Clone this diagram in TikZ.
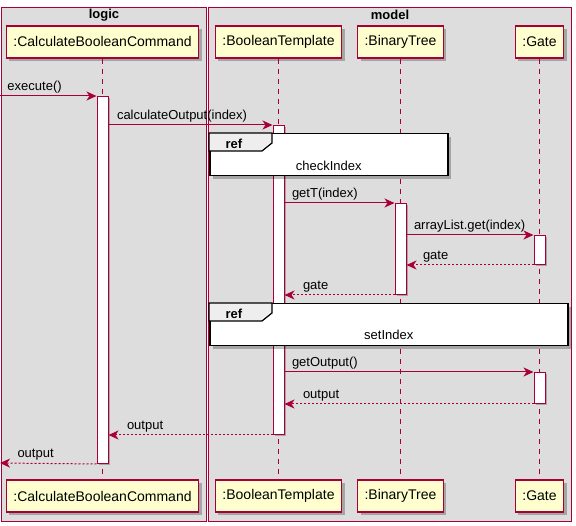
\documentclass[tikz,border=0pt]{standalone}
\usepackage{fontspec}
\setmainfont{Liberation Sans}
\usetikzlibrary{arrows.meta,shadows}
\definecolor{plum}{HTML}{A80036}
\definecolor{partfill}{HTML}{FEFECE}
\definecolor{groupgray}{HTML}{DDDDDD}
\definecolor{tabgray}{HTML}{EEEEEE}

\begin{document}
\begin{tikzpicture}[x=1pt,y=-1pt,>={Stealth[length=10pt,width=9pt,inset=3pt]},
  group node/.style={rectangle,fill=groupgray,draw=plum,line width=1pt,inner sep=0pt,anchor=north west},
  group title/.style={font=\bfseries\fontsize{13}{15}\selectfont},
  part node/.style={rectangle,fill=partfill,draw=plum,line width=1.2pt,font=\fontsize{14}{16}\selectfont,
    minimum height=32pt,inner xsep=7pt,drop shadow={shadow xshift=3pt,shadow yshift=-3pt,fill=black,opacity=0.25}},
  act node/.style={rectangle,fill=white,draw=plum,line width=1pt,minimum width=11pt,inner sep=0pt,anchor=north,
    drop shadow={shadow xshift=2pt,shadow yshift=-2pt,fill=black,opacity=0.25}},
  ref node/.style={rectangle,fill=white,draw=black,line width=1.5pt,inner sep=0pt,anchor=north west,
    drop shadow={shadow xshift=3pt,shadow yshift=-3pt,fill=black,opacity=0.25}},
  ref tab/.style={fill=tabgray,draw=black,line width=1.2pt},
  ref text/.style={font=\fontsize{13}{15}\selectfont},
  life line/.style={draw=plum,line width=1pt,dash pattern=on 5pt off 5pt},
  msg/.style={->,draw=plum,line width=1pt},
  ret/.style={->,draw=plum,line width=1pt,dash pattern=on 2pt off 2pt},
  msg label/.style={font=\fontsize{13}{15}\selectfont,inner sep=2pt,anchor=south west}]

  \useasboundingbox (0,0) rectangle (576,526);

  % groups
  \node[group node,minimum width=205pt,minimum height=514pt] (logic) at (1,7) {};
  \node[group node,minimum width=363pt,minimum height=514pt] (model) at (208,7) {};
  \node[group title] at ([yshift=-8pt]logic.north) {logic};
  \node[group title] at ([yshift=-8pt]model.north) {model};

  % participants
  \node[part node] (cbcT) at (102.5,42) {:CalculateBooleanCommand};
  \node[part node] (btT) at (278.5,42) {:BooleanTemplate};
  \node[part node] (treeT) at (400.5,42) {:BinaryTree};
  \node[part node] (gateT) at (539.5,42) {:Gate};
  \node[part node] (cbcB) at (102.5,496) {:CalculateBooleanCommand};
  \node[part node] (btB) at (278.5,496) {:BooleanTemplate};
  \node[part node] (treeB) at (400.5,496) {:BinaryTree};
  \node[part node] (gateB) at (539.5,496) {:Gate};

  \draw[life line] (cbcT) -- (cbcB);
  \draw[life line] (btT) -- (btB);
  \draw[life line] (treeT) -- (treeB);
  \draw[life line] (gateT) -- (gateB);

  % activations
  \node[act node,minimum height=367pt] (a1) at (102.5,96) {};
  \node[act node,minimum height=309pt] (a2) at (278.5,125) {};
  \node[act node,minimum height=91pt] (a3) at (400.5,203) {};
  \node[act node,minimum height=29pt] (a4) at (539.5,235) {};
  \node[act node,minimum height=31pt] (a5) at (539.5,372) {};

  % refs
  \node[ref node,minimum width=238pt,minimum height=42pt] (chk) at (209,133) {};
  \draw[ref tab] (chk.north west) -- ++(63,0) -- ++(0,10) -- ++(-10,8) -- ++(-53,0) -- cycle;
  \node[font=\bfseries\fontsize{13}{15}\selectfont,anchor=base west] at ([xshift=13pt,yshift=-15.5pt]chk.north west) {ref};
  \node[ref text] at ([yshift=11pt]chk.south) {checkIndex};

  \node[ref node,minimum width=358pt,minimum height=42pt] (set) at (209,303) {};
  \draw[ref tab] (set.north west) -- ++(63,0) -- ++(0,10) -- ++(-10,8) -- ++(-53,0) -- cycle;
  \node[font=\bfseries\fontsize{13}{15}\selectfont,anchor=base west] at ([xshift=13pt,yshift=-15.5pt]set.north west) {ref};
  \node[ref text] at ([yshift=11.5pt]set.south) {setIndex};

  % messages
  \coordinate (in) at (0,96);
  \coordinate (out) at (0,463);
  \draw[msg] (in) -- node[msg label,pos=0,xshift=5pt] {execute()} (a1.north west);
  \draw[msg] (a1.east |- a2.north) -- node[msg label,pos=0,xshift=6pt] {calculateOutput(index)} (a2.north west);
  \draw[msg] (a2.east |- a3.north) -- node[msg label,pos=0,xshift=5pt] {getT(index)} (a3.north west);
  \draw[msg] (a3.east |- a4.north) -- node[msg label,pos=0,xshift=5pt] {arrayList.get(index)} (a4.north west);
  \draw[ret] (a4.south west) -- node[msg label,pos=1,xshift=14pt] {gate} (a3.east |- a4.south);
  \draw[ret] (a3.south west) -- node[msg label,pos=1,xshift=16pt] {gate} (a2.east |- a3.south);
  \draw[msg] (a2.east |- a5.north) -- node[msg label,pos=0,xshift=5pt] {getOutput()} (a5.north west);
  \draw[ret] (a5.south west) -- node[msg label,pos=1,xshift=16pt] {output} (a2.east |- a5.south);
  \draw[ret] (a2.south west) -- node[msg label,pos=1,xshift=16pt] {output} (a1.east |- a2.south);
  \draw[ret] (a1.south west) -- node[msg label,pos=1,xshift=15pt] {output} (out);
\end{tikzpicture}
\end{document}
